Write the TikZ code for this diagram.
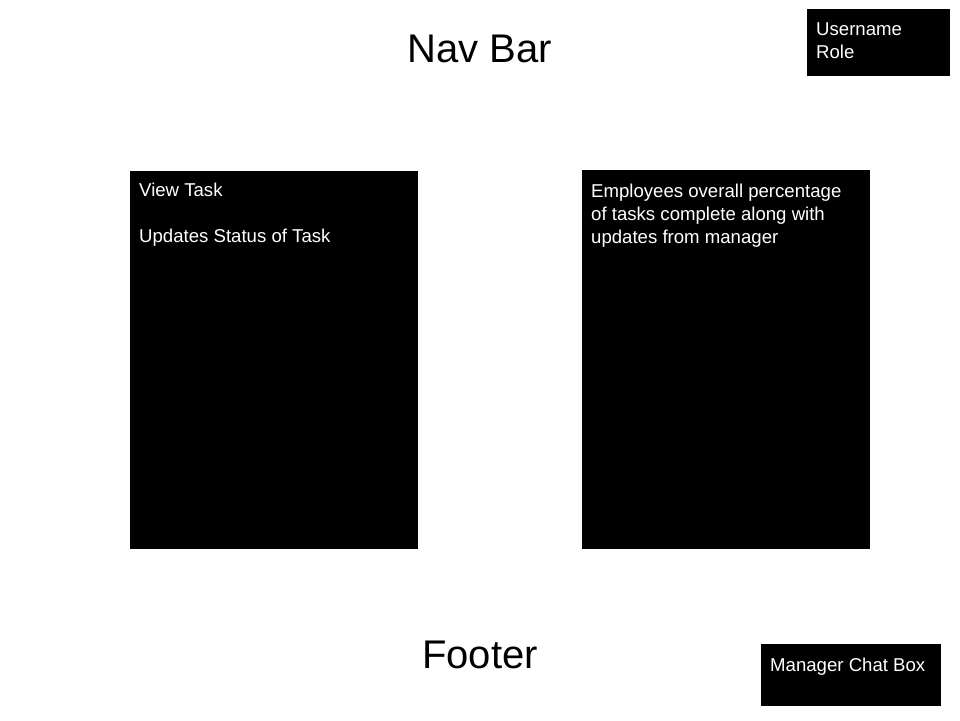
\documentclass[tikz,border=0pt]{standalone}
\usepackage{fontspec}
\setmainfont{Liberation Sans}
\tikzset{
  panel/.style={fill=black, draw=black},
  small/.style={text=white, font=\fontsize{18.6}{23}\selectfont, anchor=base west, inner sep=0pt},
  big/.style={text=black, font=\fontsize{40}{48}\selectfont, anchor=base, inner sep=0pt}
}
\begin{document}
\begin{tikzpicture}[x=1pt,y=1pt]
\useasboundingbox (0,0) rectangle (960,720);
\fill[white] (0,0) rectangle (960,720);
% Nav bar title
\node[big] (nav) at (480,720-63) {Nav Bar};
% user box
\path[panel] (807,720-9) rectangle (949,720-75);
\node[small] (user1) at (816,720-36) {Username};
\node[small] (user2) at (816,720-59) {Role};
% left panel
\path[panel] (130,720-171) rectangle (417,720-548);
\node[small] (l1) at (139,720-197) {View Task};
\node[small] (l2) at (139,720-243) {Updates Status of Task};
% right panel
\path[panel] (582,720-170) rectangle (869,720-548);
\node[small] (r1) at (591,720-198) {Employees overall percentage};
\node[small] (r2) at (591,720-221) {of tasks complete along with};
\node[small] (r3) at (591,720-244) {updates from manager};
% footer
\node[big] (foot) at (480,720-668) {Footer};
% chat box
\path[panel] (761,720-644) rectangle (940,720-705);
\node[small] (chat) at (770,720-671) {Manager Chat Box};
\end{tikzpicture}
\end{document}
